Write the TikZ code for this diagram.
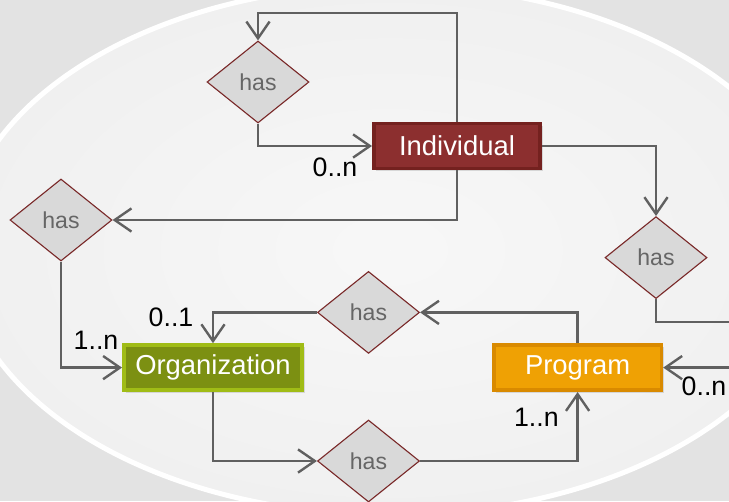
\documentclass[tikz,border=0pt]{standalone}
\usepackage{fontspec}
\setmainfont{Liberation Sans}
\usetikzlibrary{shapes.geometric,arrows.meta,shadows}
\definecolor{bgouter}{HTML}{E3E3E3}
\definecolor{bginner}{HTML}{F0F0F0}
\definecolor{indframe}{HTML}{74211F}
\definecolor{indfill}{HTML}{8C2F2F}
\definecolor{orgframe}{HTML}{A0BC16}
\definecolor{orgfill}{HTML}{7C9012}
\definecolor{progframe}{HTML}{D98A00}
\definecolor{progfill}{HTML}{EFA104}
\definecolor{relline}{HTML}{7A2A2A}
\definecolor{relfill}{HTML}{D9D9D9}
\definecolor{reltext}{HTML}{666666}
\definecolor{linkgray}{HTML}{606060}
\begin{document}
\begin{tikzpicture}[
    entity/.style={draw,rectangle,line width=0.09cm,minimum height=1.13cm,text=white,
        font=\fontsize{19.5}{22}\selectfont,
        drop shadow={opacity=0.25,shadow xshift=0.06cm,shadow yshift=-0.06cm}},
    rel/.style={diamond,draw=relline,fill=relfill,line width=0.8pt,minimum width=2.55cm,
        minimum height=2.05cm,inner sep=0pt,text=reltext,font=\fontsize{16.4}{18}\selectfont},
    link/.style={draw=linkgray,line width=1.7pt,-{Straight Barb[length=0.42cm,width=0.58cm]}},
    card/.style={font=\fontsize{19}{21}\selectfont}
]
        \useasboundingbox (0,0) rectangle (18.225,-12.525);
        \clip (0,0) rectangle (18.225,-12.525);
        % background
        \fill[bgouter] (0,0) rectangle (18.225,-12.525);
        \shade[inner color=bginner!50!white,outer color=bginner] (9.75,-6.25) ellipse [x radius=10.75,y radius=6.625];
        \draw[white,line width=0.125cm] (9.75,-6.25) ellipse [x radius=10.75,y radius=6.625];
        % entities
        \node[entity,draw=indframe,fill=indfill,minimum width=4.16cm] (I) at (11.425,-3.65) {Individual};
        \node[entity,draw=orgframe,fill=orgfill,minimum width=4.46cm] (O) at (5.325,-9.19) {Organization};
        \node[entity,draw=progframe,fill=progfill,minimum width=4.19cm] (P) at (14.44,-9.19) {Program};
        % relations
        \node[rel] (h1) at (6.45,-2.05) {has};
        \node[rel] (h2) at (1.525,-5.5) {has};
        \node[rel] (h3) at (16.4,-6.44) {has};
        \node[rel] (h4) at (9.2125,-7.81) {has};
        \node[rel] (h5) at (9.2125,-11.525) {has};
        % connectors
        \coordinate (top) at (0,-0.325);
        \coordinate (far) at (19.2,-8.05);
        \draw[link] (I.north) -- (I.north |- top) -| (h1.north);
        \draw[link] (h1.south) |- (I.west);
        \draw[link] (I.south) |- (h2.east);
        \draw[link] (h2.south) |- (O.west);
        \draw[link] (I.east) -| (h3.north);
        \draw[link] (h3.south) |- (far) |- (P.east);
        \draw[link] (P.north) |- (h4.east);
        \draw[link] (h4.west) -| (O.north);
        \draw[link] (O.south) |- (h5.west);
        \draw[link] (h5.east) -| (P.south);
        % cardinalities
        \node[card] (c1) at (8.375,-4.175) {0..n};
        \node[card] (c2) at (2.4,-8.5) {1..n};
        \node[card] (c3) at (4.275,-7.925) {0..1};
        \node[card] (c4) at (13.41,-10.44) {1..n};
        \node[card] (c5) at (17.6,-9.65) {0..n};
\end{tikzpicture}
\end{document}
